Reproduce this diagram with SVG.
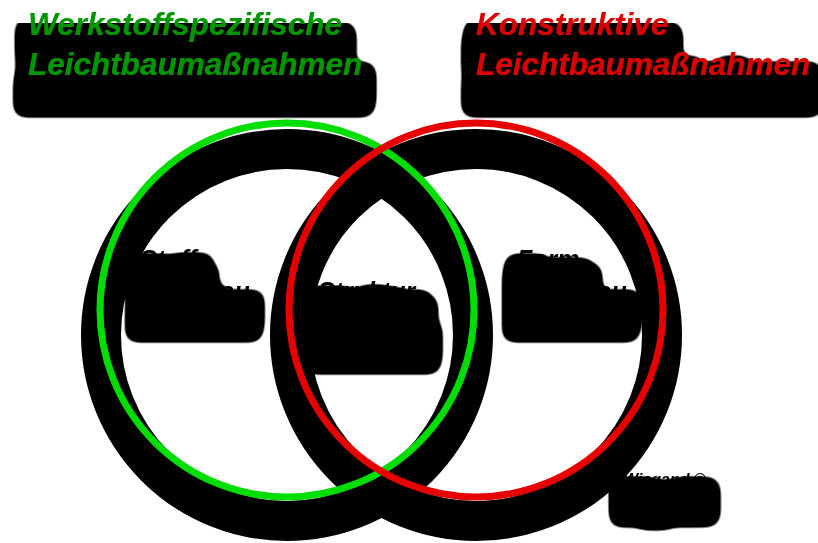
<svg xmlns="http://www.w3.org/2000/svg" width="818" height="543" viewBox="0 0 818 543">
<style>
  .t { font-family: "Liberation Sans", Arial, sans-serif; font-weight: bold; font-style: italic; }
  .title { font-size: 31.5px; }
  .lbl { font-size: 25px; fill: #000; }
  .cr { font-size: 16px; fill: #000; }
  .ring { fill: none; stroke-width: 7; }
  .ringsh { fill: none; stroke: #000; stroke-width: 40; }
  .sh { filter: url(#sh); }
</style>
<defs>
  <filter id="sh" filterUnits="userSpaceOnUse" x="0" y="0" width="818" height="543">
    <feMorphology in="SourceAlpha" operator="dilate" radius="11 15" result="d"/>
    <feGaussianBlur in="d" stdDeviation="6" result="b"/>
    <feOffset in="b" dy="23" result="o"/>
    <feComponentTransfer in="o" result="s">
      <feFuncA type="linear" slope="10" intercept="-1.5"/>
    </feComponentTransfer>
    <feMerge>
      <feMergeNode in="s"/>
      <feMergeNode in="SourceGraphic"/>
    </feMerge>
  </filter>
</defs>
<rect width="818" height="543" fill="#fff"/>
<g id="shadows">
  <circle class="ringsh" cx="287" cy="335" r="186"/>
  <circle class="ringsh" cx="476" cy="335" r="186"/>
</g>
<g id="node-werkstoff">
  <text class="t title sh" fill="#009600"><tspan x="28" y="35">Werkstoffspezifische</tspan><tspan x="28" y="75">Leichtbaumaßnahmen</tspan></text>
  <circle class="ring" cx="287" cy="310" r="187" stroke="#00dd00"/>
</g>
<g id="node-konstruktiv">
  <text class="t title sh" fill="#dd0000"><tspan x="476" y="35">Konstruktive</tspan><tspan x="476" y="75">Leichtbaumaßnahmen</tspan></text>
  <circle class="ring" cx="476" cy="310" r="187" stroke="#e60000"/>
</g>
<g id="node-stoff">
  <text class="t lbl sh"><tspan x="140" y="268">Stoff-</tspan><tspan x="140" y="300">leichtbau</tspan></text>
</g>
<g id="node-struktur">
  <text class="t lbl sh"><tspan x="318" y="300">Struktur-</tspan><tspan x="318" y="332">leichtbau</tspan></text>
</g>
<g id="node-form">
  <text class="t lbl sh"><tspan x="517" y="268">Form-</tspan><tspan x="517" y="300">leichtbau</tspan></text>
</g>
<g id="credit">
  <text class="t cr sh" x="623" y="485">Wiegand ©</text>
</g>
</svg>
